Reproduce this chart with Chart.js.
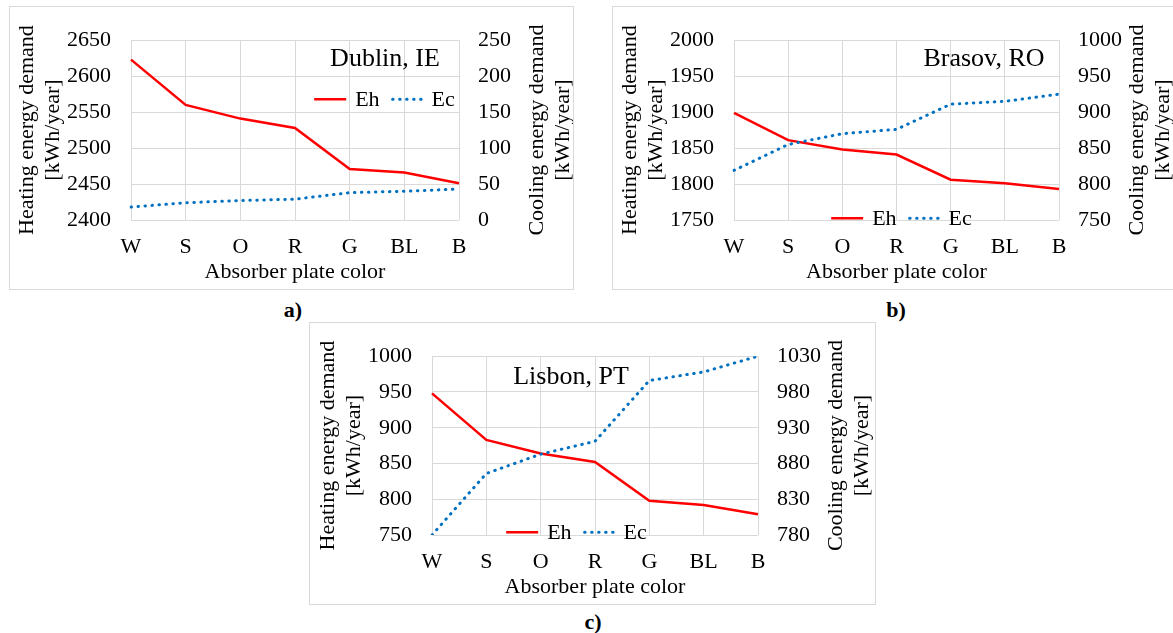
<!DOCTYPE html>
<html>
<head>
<meta charset="utf-8">
<script src="https://cdn.jsdelivr.net/npm/chart.js@4.4.1/dist/chart.umd.min.js"></script>
<style>
  html, body { margin: 0; padding: 0; background: #fff; }
  body { width: 1173px; height: 633px; position: relative; overflow: hidden; }
  .panel { position: absolute; border: 1px solid #d9d9d9; box-sizing: border-box; background: #fff; }
  .panel canvas { display: block; }
  .tag { position: absolute; font: bold 22px 'Liberation Serif', 'Times New Roman', serif; color: #000; transform: translate(-50%, -50%); }
</style>
</head>
<body>
<div class="panel" style="left:9px;top:6px;width:565px;height:284px"><canvas id="chartA" width="563" height="282"></canvas></div>
<div class="panel" style="left:612px;top:6px;width:565px;height:284px"><canvas id="chartB" width="563" height="282"></canvas></div>
<div class="panel" style="left:309px;top:322px;width:567px;height:283px"><canvas id="chartC" width="565" height="281"></canvas></div>
<div class="tag" style="left:293px;top:310px">a)</div>
<div class="tag" style="left:896px;top:310px">b)</div>
<div class="tag" style="left:593px;top:622px">c)</div>
<script>
// categories (absorber plate colours)
const plateColors = ['W', 'S', 'O', 'R', 'G', 'BL', 'B'];

// Dublin, IE
const dublinEh = [2623, 2560, 2541, 2528, 2471, 2466, 2451];
const dublinEc = [18, 24, 27, 29, 38, 40, 43];
const dublinHeatRange = [2400, 2650];
const dublinCoolRange = [0, 250];

// Brasov, RO
const brasovEh = [1899, 1861, 1848, 1841, 1806, 1801, 1793];
const brasovEc = [819, 855, 870, 876, 911, 915, 925];
const brasovHeatRange = [1750, 2000];
const brasovCoolRange = [750, 1000];

// Lisbon, PT
const lisbonEh = [948, 883, 864, 852, 798, 792, 779];
const lisbonEc = [780, 866, 893, 911, 996, 1008, 1030];
const lisbonHeatRange = [750, 1000];
const lisbonCoolRange = [780, 1030];

const tickStep = 50;

const FONT = "'Liberation Serif', 'Times New Roman', serif";
const GRID = '#d9d9d9';
const RED = '#ff0000';
const BLUE = '#0070c0';

// draws city name, legend and the two rotated y titles
const overlay = {
    id: 'overlay',
    afterDraw(chart, args, o) {
        const { ctx, chartArea: a } = chart;
        const midY = (a.top + a.bottom) / 2;
        ctx.save();
        ctx.fillStyle = '#000';
        ctx.textBaseline = 'middle';

        // y axis titles, both read bottom-to-top
        ctx.font = `22px ${FONT}`;
        ctx.textAlign = 'center';
        [[a.left - 104, 'Heating energy demand'], [a.left - 78, '[kWh/year]'],
         [a.right + 78, 'Cooling energy demand'], [a.right + 104, '[kWh/year]']].forEach(([x, t]) => {
            ctx.save();
            ctx.translate(x, midY);
            ctx.rotate(-Math.PI / 2);
            ctx.fillText(t, 0, 0);
            ctx.restore();
        });

        // city
        ctx.font = `26px ${FONT}`;
        ctx.fillText(o.city, a.left + o.titlePos[0], a.top + o.titlePos[1]);

        // legend
        ctx.font = `22px ${FONT}`;
        ctx.textAlign = 'left';
        const ds = chart.data.datasets;
        const lineLen = 32;
        const w0 = ctx.measureText(ds[0].label).width;
        const w1 = ctx.measureText(ds[1].label).width;
        const total = lineLen + 9 + w0 + 11 + lineLen + 10 + w1;
        let x = a.left + o.legendPos[0] - total / 2;
        const y = a.top + o.legendPos[1];
        [[ds[0], w0, 11], [ds[1], w1, 0]].forEach(([d, w, gap]) => {
            ctx.beginPath();
            ctx.strokeStyle = d.borderColor;
            ctx.lineWidth = d.borderWidth;
            ctx.lineCap = d.borderCapStyle || 'butt';
            ctx.setLineDash(d.borderDash || []);
            ctx.moveTo(x + (d.borderDash ? 2 : 0), y);
            ctx.lineTo(x + lineLen, y);
            ctx.stroke();
            ctx.setLineDash([]);
            x += lineLen + 9;
            ctx.fillText(d.label, x, y + 1);
            x += w + gap;
        });
        ctx.restore();
    }
};

function makeChart(id, eh, ec, heatRange, coolRange, opts) {
    const canvas = document.getElementById(id);
    const W = canvas.width, H = canvas.height;
    const area = opts.area;
    const tickFont = { family: FONT, size: 22 };

    return new Chart(canvas, {
        type: 'line',
        data: {
            labels: plateColors,
            datasets: [
                { label: 'Eh', data: eh, yAxisID: 'y', borderColor: RED, backgroundColor: RED,
                  borderWidth: 2.5, pointRadius: 0, tension: 0, order: 1 },
                { label: 'Ec', data: ec, yAxisID: 'y1', borderColor: BLUE, backgroundColor: BLUE,
                  borderWidth: 3, borderDash: [0.5, 6.5], borderCapStyle: 'round',
                  pointRadius: 0, tension: 0, order: 0 }
            ]
        },
        options: {
            responsive: false,
            animation: false,
            events: [],
            layout: { padding: { top: area.top, left: 0, right: 0, bottom: 0 } },
            plugins: {
                legend: { display: false },
                tooltip: { enabled: false },
                overlay: opts
            },
            scales: {
                x: {
                    offset: false,
                    grid: { color: GRID, lineWidth: 1, drawTicks: false },
                    border: { display: false },
                    ticks: { color: '#000', font: tickFont, padding: 14, maxRotation: 0, autoSkip: false },
                    title: { display: true, text: 'Absorber plate color', color: '#000', font: tickFont, padding: { top: 0, bottom: 4 } },
                    afterFit: s => { s.height = H - area.bottom; }
                },
                y: {
                    position: 'left',
                    min: heatRange[0], max: heatRange[1],
                    grid: { color: GRID, lineWidth: 1, drawTicks: false },
                    border: { display: false },
                    ticks: { stepSize: tickStep, color: '#000', font: tickFont, padding: 20, callback: v => v },
                    afterFit: s => { s.width = area.left; }
                },
                y1: {
                    position: 'right',
                    min: coolRange[0], max: coolRange[1],
                    grid: { display: false, drawTicks: false },
                    border: { display: false },
                    ticks: { stepSize: tickStep, color: '#000', font: tickFont, padding: 19, callback: v => v },
                    afterFit: s => { s.width = W - area.right; }
                }
            }
        },
        plugins: [overlay]
    });
}

makeChart('chartA', dublinEh, dublinEc, dublinHeatRange, dublinCoolRange, {
    city: 'Dublin, IE',
    area: { left: 121, right: 449, top: 20, bottom: 213 },
    titlePos: [254, 19],
    legendPos: [254, 59]
});

makeChart('chartB', brasovEh, brasovEc, brasovHeatRange, brasovCoolRange, {
    city: 'Brasov, RO',
    area: { left: 121, right: 446, top: 20, bottom: 213 },
    titlePos: [250, 19],
    legendPos: [168, 178]
});

makeChart('chartC', lisbonEh, lisbonEc, lisbonHeatRange, lisbonCoolRange, {
    city: 'Lisbon, PT',
    area: { left: 122, right: 448, top: 18, bottom: 212 },
    titlePos: [139, 21],
    legendPos: [145, 176]
});
</script>
</body>
</html>
